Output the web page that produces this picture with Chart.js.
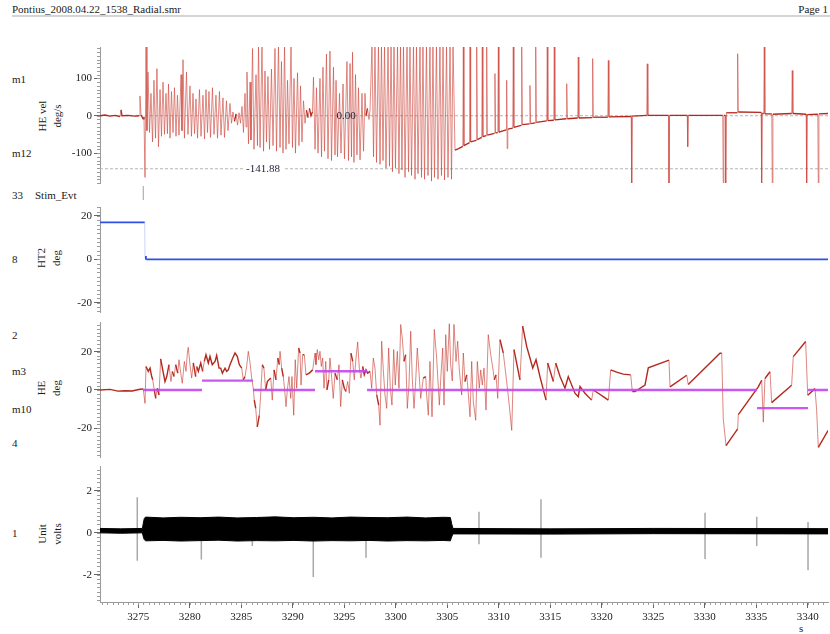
<!DOCTYPE html>
<html>
<head>
<meta charset="utf-8">
<title>Pontius_2008.04.22_1538_Radial.smr</title>
<script src="https://cdn.jsdelivr.net/npm/chart.js"></script>
<style>
  body { margin: 0; width: 830px; height: 634px; background: #fff; position: relative; overflow: hidden;
         font-family: "Liberation Serif", Tinos, "Times New Roman", Times, "Liberation Sans", sans-serif; color: #1a1a1a; }
  canvas.panel { position: absolute; left: 0; }
  .lbl { position: absolute; font-size: 11px; line-height: 12px; white-space: nowrap; }
  .rot { position: absolute; font-size: 11px; line-height: 15px; text-align: center; white-space: nowrap;
         transform: translate(-50%, -50%) rotate(-90deg); }
  .rule { position: absolute; left: 12px; top: 15px; width: 818px; height: 2px; background: #d4d4d4; }
</style>
</head>
<body>
<div class="lbl" style="left:12px;top:3px">Pontius_2008.04.22_1538_Radial.smr</div>
<div class="lbl" style="right:2px;top:3px">Page 1</div>
<div class="rule"></div>

<div class="lbl" style="left:12px;top:73px">m1</div>
<div class="lbl" style="left:12px;top:147px">m12</div>
<div class="rot" style="left:50px;top:116px">HE vel<br>deg/s</div>

<div class="lbl" style="left:12px;top:189px">33</div>
<div class="lbl" style="left:35px;top:189px">Stim_Evt</div>

<div class="lbl" style="left:12px;top:253px">8</div>
<div class="rot" style="left:49px;top:258px">HT2<br>deg</div>

<div class="lbl" style="left:12px;top:329px">2</div>
<div class="lbl" style="left:12px;top:365px">m3</div>
<div class="lbl" style="left:12px;top:403px">m10</div>
<div class="lbl" style="left:12px;top:437px">4</div>
<div class="rot" style="left:49px;top:388px">HE<br>deg</div>

<div class="lbl" style="left:12px;top:527px">1</div>
<div class="rot" style="left:50px;top:534px">Unit<br>volts</div>
<div class="lbl" style="left:799px;top:622px">s</div>

<canvas class="panel" id="cVel"  width="830" height="156" style="top:37px;width:830px;height:156px"></canvas>
<canvas class="panel" id="cStim" width="830" height="16"  style="top:185px;width:830px;height:16px"></canvas>
<canvas class="panel" id="cHt2"  width="830" height="125" style="top:197px;width:830px;height:125px"></canvas>
<canvas class="panel" id="cHe"   width="830" height="155" style="top:312px;width:830px;height:155px"></canvas>
<canvas class="panel" id="cUnit" width="830" height="178" style="top:456px;width:830px;height:178px"></canvas>

<script>
// ---------- recorded channels (time in s) ----------

// HE vel, deg/s : [time, value]
const heVel = [
  [3271.28,0],[3271.77,2],[3272.25,-1],[3272.74,1],[3273.22,-2],[3273.32,16],[3273.42,0],[3274.00,1],
  [3274.68,-1],[3275.07,0],[3275.16,53],[3275.26,2],[3275.46,-8],[3275.55,-3],[3275.65,-165],[3275.75,190],
  [3275.84,-40],[3275.94,117],[3276.09,-45],[3276.23,60],[3276.38,-70],[3276.52,95],[3276.67,-60],[3276.81,126],
  [3276.96,-83],[3277.11,70],[3277.25,-55],[3277.40,90],[3277.54,-50],[3277.69,60],[3277.83,-48],[3277.93,85],
  [3278.08,-60],[3278.22,65],[3278.37,-45],[3278.51,75],[3278.66,-55],[3278.80,55],[3278.95,-52],[3279.15,110],
  [3279.24,-40],[3279.34,150],[3279.48,-60],[3279.68,117],[3279.82,-50],[3280.02,80],[3280.16,-55],[3280.31,60],
  [3280.46,-48],[3280.60,45],[3280.75,-60],[3280.94,70],[3281.09,-55],[3281.28,55],[3281.43,-62],[3281.57,70],
  [3281.72,-45],[3281.86,65],[3282.01,-58],[3282.20,75],[3282.35,-50],[3282.54,55],[3282.69,-60],[3282.88,65],
  [3283.03,-52],[3283.22,48],[3283.37,-58],[3283.56,40],[3283.71,-40],[3283.90,33],[3284.05,-20],[3284.19,10],
  [3284.34,-15],[3284.49,5],[3284.63,-25],[3284.78,8],[3284.92,-20],[3285.07,25],[3285.21,-45],[3285.36,60],
  [3285.46,-30],[3285.55,117],[3285.70,-75],[3285.85,90],[3285.94,-65],[3286.09,180],[3286.23,-90],[3286.43,110],
  [3286.57,-80],[3286.67,190],[3286.82,-85],[3287.01,190],[3287.16,-95],[3287.30,120],[3287.45,-70],[3287.59,105],
  [3287.74,-90],[3287.93,125],[3288.08,-80],[3288.27,180],[3288.42,-95],[3288.61,190],[3288.76,-85],[3288.90,145],
  [3289.05,-100],[3289.20,190],[3289.34,-90],[3289.49,95],[3289.63,-75],[3289.83,190],[3289.97,-85],[3290.12,100],
  [3290.26,-100],[3290.46,115],[3290.60,-80],[3290.75,80],[3290.89,-70],[3291.04,40],[3291.19,-20],[3291.33,15],
  [3291.48,-5],[3291.62,20],[3291.77,0],[3291.91,10],[3292.01,103],[3292.16,-90],[3292.30,75],[3292.45,-100],
  [3292.64,100],[3292.79,-110],[3292.93,130],[3293.08,-95],[3293.27,165],[3293.42,-115],[3293.61,173],[3293.76,-120],
  [3293.95,130],[3294.10,-105],[3294.20,95],[3294.34,-110],[3294.54,60],[3294.68,-100],[3294.88,85],[3295.02,-115],
  [3295.26,145],[3295.41,-120],[3295.56,140],[3295.70,-110],[3295.80,170],[3295.94,-125],[3296.09,110],[3296.23,-105],
  [3296.38,75],[3296.53,-118],[3296.72,60],[3296.87,-95],[3297.01,60],[3297.11,0],[3297.25,20],[3297.40,-10],
  [3297.50,15],[3297.69,190],[3297.84,-110],[3297.98,190],[3298.13,-125],[3298.32,190],[3298.47,-130],[3298.61,190],
  [3298.76,-120],[3298.91,190],[3299.05,-140],[3299.25,190],[3299.39,-135],[3299.54,190],[3299.68,-150],[3299.83,190],
  [3299.97,-140],[3300.17,190],[3300.31,-155],[3300.46,190],[3300.60,-145],[3300.75,190],[3300.90,-165],[3301.09,190],
  [3301.24,-150],[3301.38,190],[3301.53,-160],[3301.72,190],[3301.87,-170],[3302.01,190],[3302.16,-155],[3302.35,190],
  [3302.50,-165],[3302.64,190],[3302.79,-170],[3302.98,190],[3303.13,-160],[3303.32,190],[3303.47,-175],[3303.61,190],
  [3303.76,-165],[3303.95,190],[3304.10,-170],[3304.29,190],[3304.44,-160],[3304.59,190],[3304.73,-172],[3304.93,190],
  [3305.07,-165],[3305.27,190],[3305.41,-170],[3305.56,190],[3305.75,-92],[3306.10,-88],[3306.51,-82],[3306.56,190],
  [3306.62,-80],[3307.16,-72],[3307.21,190],[3307.27,-70],[3307.81,-66],[3307.86,190],[3307.92,-64],[3308.35,-58],
  [3308.40,190],[3308.46,-56],[3308.78,-53],[3308.83,190],[3308.89,-52],[3309.58,-47],[3309.63,113],[3309.69,-46],
  [3309.91,-45],[3309.96,190],[3310.02,-44],[3310.72,-38],[3310.77,95],[3310.82,-88],[3310.88,-36],[3311.36,-33],
  [3311.41,190],[3311.47,-31],[3312.18,-26],[3312.23,190],[3312.29,-24],[3312.98,-22],[3313.03,81],[3313.09,-21],
  [3313.54,-19],[3313.59,190],[3313.65,-18],[3314.66,-14],[3314.71,190],[3314.77,-13],[3315.34,-12],[3315.39,190],
  [3315.45,-11],[3316.55,-8],[3316.60,86],[3316.66,-8],[3317.67,-6],[3317.72,157],[3317.78,-6],[3319.07,-5],
  [3319.12,153],[3319.18,-4],[3320.59,-4],[3320.64,148],[3320.70,-3],[3322.86,-2],[3322.91,-190],[3322.97,-1],
  [3324.37,1],[3324.42,139],[3324.48,1],[3326.48,1],[3326.53,-190],[3326.59,1],[3328.30,1],[3328.35,-83],
  [3328.41,1],[3331.75,1],[3331.80,-190],[3331.86,0],[3331.99,2],[3332.04,-190],[3332.10,8],[3333.15,8],
  [3333.20,166],[3333.26,10],[3335.48,9],[3335.53,-190],[3335.59,6],[3335.73,6],[3335.78,190],[3335.84,5],
  [3336.51,5],[3336.56,-190],[3336.62,4],[3338.45,6],[3338.50,121],[3338.56,6],[3339.85,4],[3339.90,-190],
  [3339.96,3],[3340.98,4],[3341.03,-190],[3341.09,5],[3341.97,6]
];

// horizontal cursors on HE vel (deg/s)
const velCursors = [0, -141.88];

// Stim_Evt event times
const stimEvents = [3275.48];

// HT2, deg : [time, value]
const ht2Deg = [[3271.28,17],[3275.62,17],[3275.65,0.2],[3275.74,1.5],[3275.78,0],[3341.97,0]];

// HE position, deg : [time, value]
const heDeg = [
  [3271.28,0],[3272.25,0.3],[3273.03,-0.6],[3273.71,-0.4],[3274.39,-0.5],[3275.16,0.4],[3275.48,0.5],[3275.65,-7.0],
  [3275.75,12.3],[3275.97,9.7],[3276.14,11.4],[3276.30,7.0],[3276.40,5.3],[3276.55,0],[3276.69,-4.4],[3276.84,0.9],
  [3277.01,-2.6],[3277.17,16.3],[3277.43,8.8],[3277.59,4.4],[3277.76,7.0],[3277.98,13.2],[3278.17,4.4],[3278.30,9.7],
  [3278.47,7.0],[3278.63,13.2],[3278.83,8.8],[3278.95,15.8],[3279.12,8.8],[3279.27,3.5],[3279.47,14.9],[3279.63,9.7],
  [3279.76,19.3],[3279.85,22.3],[3280.02,13.2],[3280.18,6.2],[3280.34,14.1],[3280.57,7.0],[3280.67,12.3],[3280.83,9.7],
  [3281.06,14.1],[3281.25,9.7],[3281.41,14.9],[3281.57,18.4],[3281.80,14.1],[3281.96,17.6],[3282.18,13.2],[3282.45,14.9],
  [3282.61,18.1],[3282.84,11.4],[3283.00,11.4],[3283.16,8.8],[3283.42,11.4],[3283.58,9.7],[3283.74,10.5],[3283.90,13.2],
  [3284.17,16.7],[3284.39,19.3],[3284.61,17.6],[3284.81,13.2],[3285.04,11.4],[3285.19,5.3],[3285.36,7.0],[3285.52,12.3],
  [3285.68,20.2],[3285.85,14.1],[3286.01,6.2],[3286.17,0.5],[3286.26,-5.3],[3286.40,-9.6],[3286.55,-19.3],[3286.75,-13.2],
  [3286.88,-2.6],[3287.04,13.2],[3287.20,11.4],[3287.37,0],[3287.53,4.4],[3287.69,5.3],[3287.86,6.2],[3288.01,-5.3],
  [3288.18,10.5],[3288.37,5.3],[3288.54,16.7],[3288.69,13.2],[3288.76,20.2],[3288.92,11.4],[3289.08,7.0],[3289.24,-1.7],
  [3289.34,-8.7],[3289.47,0],[3289.63,7.0],[3289.80,-4.4],[3289.92,7.0],[3290.09,-13.2],[3290.24,15.8],[3290.38,0.9],
  [3290.57,21.9],[3290.70,19.3],[3290.80,2.6],[3290.96,18.4],[3291.12,18.4],[3291.28,7.9],[3291.60,8.8],[3291.93,10.5],
  [3292.16,19.3],[3292.25,13.2],[3292.38,21.1],[3292.52,15.8],[3292.64,20.2],[3292.77,12.3],[3292.90,16.7],[3293.03,0.9],
  [3293.20,14.9],[3293.32,0],[3293.49,5.3],[3293.61,16.7],[3293.78,6.2],[3293.93,-4.4],[3294.10,8.8],[3294.32,5.3],
  [3294.49,13.2],[3294.65,-8.7],[3294.81,5.3],[3295.00,0.9],[3295.17,-0.8],[3295.33,4.4],[3295.49,-1.7],[3295.65,19.3],
  [3295.82,14.9],[3295.97,5.3],[3296.14,16.7],[3296.30,25.1],[3296.46,11.4],[3296.62,6.2],[3296.79,12.3],[3296.94,7.9],
  [3297.11,10.5],[3297.27,8.8],[3297.50,9.7],[3297.66,0.9],[3297.82,16.7],[3297.98,11.4],[3298.15,-2.6],[3298.34,-7.9],
  [3298.47,-18.4],[3298.63,25.5],[3298.79,10.5],[3298.95,-2.6],[3299.12,-9.6],[3299.31,21.9],[3299.47,0.9],[3299.63,-7.9],
  [3299.80,21.1],[3299.95,2.6],[3300.15,20.2],[3300.31,0.9],[3300.48,34.2],[3300.63,27.2],[3300.80,14.9],[3300.96,18.4],
  [3301.12,-9.6],[3301.28,2.6],[3301.45,30.7],[3301.60,6.2],[3301.77,-9.6],[3301.93,4.4],[3302.09,21.9],[3302.25,9.7],
  [3302.42,-4.4],[3302.67,6.2],[3302.91,7.0],[3303.00,-2.6],[3303.16,-13.2],[3303.32,14.9],[3303.52,-14.0],[3303.74,31.6],
  [3303.97,16.7],[3304.23,-7.9],[3304.39,7.9],[3304.56,21.9],[3304.68,-7.9],[3304.85,28.9],[3305.00,9.7],[3305.20,34.6],
  [3305.33,13.2],[3305.49,4.7],[3305.65,34.2],[3305.85,14.9],[3306.01,25.5],[3306.17,10.5],[3306.40,-2.6],[3306.56,19.3],
  [3306.72,4.4],[3306.89,7.9],[3307.04,-1.7],[3307.21,-14.0],[3307.37,14.9],[3307.53,-6.1],[3307.76,-15.8],[3307.92,14.9],
  [3308.11,0.9],[3308.25,10.5],[3308.40,2.6],[3308.57,11.4],[3308.76,-10.5],[3308.98,28.9],[3309.22,18.4],[3309.47,9.7],
  [3309.57,5.3],[3309.73,7.9],[3309.90,-4.4],[3310.12,26.3],[3310.44,19.3],[3310.77,4.4],[3311.02,-7.9],[3311.26,-21.1],
  [3311.48,21.1],[3311.80,12.3],[3312.06,5.3],[3312.32,33.4],[3312.71,22.8],[3313.03,16.7],[3313.30,11.4],[3313.62,15.8],
  [3314.00,7.0],[3314.59,-5.3],[3314.75,14.1],[3315.30,4.4],[3315.53,14.1],[3315.95,7.0],[3316.43,0.9],[3316.75,7.0],
  [3317.40,-1.7],[3317.72,-3.5],[3317.89,1.8],[3318.37,-1.7],[3319.02,-5.3],[3319.18,0],[3319.66,-1.7],[3320.15,-3.5],
  [3320.64,-5.3],[3320.87,10.5],[3321.45,9.3],[3322.09,8.3],[3322.81,7.9],[3322.97,-0.8],[3323.23,-0.8],[3324.20,2.5],
  [3324.52,11.6],[3326.53,15.6],[3326.63,1.6],[3328.25,7.7],[3328.40,2.8],[3331.48,19.2],[3331.65,19.2],[3331.80,-15.0],
  [3332.07,-29.1],[3333.20,-20.3],[3333.26,-12.9],[3335.20,1.6],[3335.53,5.1],[3335.69,-16.8],[3335.85,6.0],[3336.34,9.5],
  [3336.50,-6.6],[3338.44,2.5],[3338.60,17.4],[3339.80,25.3],[3340.00,-2.8],[3340.71,0.7],[3340.87,-10.7],[3341.03,-30.0],
  [3341.97,-21.2]
];

// target steps on the HE channel : [start, end, level deg]
const targetSteps = [
  [3275.46,3281.18,0],[3281.18,3286.14,4.9],[3286.14,3292.16,0],[3292.16,3297.21,9.8],
  [3297.21,3335.08,0],[3335.08,3340.03,-9.5],[3340.03,3341.97,0]
];

// Unit, volts : envelope of the raw trace
const unitTime  = [3271.28,3273.30,3275.40,3275.48,3275.58,3275.70,3277.4,3279.1,3281.0,3282.8,3284.6,3286.5,3288.3,
                   3290.1,3292.0,3293.8,3295.6,3297.4,3299.2,3301.1,3302.9,3304.6,3305.30,3305.42,3305.55,3315.0,3325.0,3341.97];
const unitUpper = [0.21,0.19,0.21,0.45,0.68,0.75,0.71,0.74,0.72,0.75,0.71,0.73,0.76,
                   0.72,0.74,0.71,0.75,0.73,0.72,0.75,0.71,0.74,0.73,0.45,0.21,0.19,0.21,0.20];
const unitLower = [0.00,-0.02,0.00,-0.18,-0.32,-0.38,-0.36,-0.39,-0.37,-0.35,-0.39,-0.37,-0.38,
                   -0.36,-0.39,-0.37,-0.38,-0.36,-0.39,-0.37,-0.38,-0.36,-0.38,-0.20,-0.05,-0.06,-0.04,-0.05];
// isolated large deflections : [time, top, bottom]
const unitSpikes = [
  [3274.90,1.69,-1.33],[3281.12,0.70,-1.27],[3286.07,0.70,-0.63],[3291.99,0.70,-2.10],[3297.11,0.70,-1.19],
  [3308.08,1.00,-0.54],[3314.10,1.60,-1.19],[3330.03,0.95,-1.24],[3335.05,0.76,-0.63],[3340.03,0.52,-1.78]
];

// ---------- shared axis settings ----------
const T_MIN = 3271.28, T_MAX = 3341.97;
const FAMILY = '"Liberation Serif", Tinos, "Times New Roman", Times, "Liberation Sans", sans-serif';
const FONT = { family: FAMILY, size: 11 };
const TEXT = '#1a1a1a';

const toXY = pairs => pairs.map(([x, y]) => ({ x, y }));

// lighter stroke for fast (steep) pieces of a trace, darker for slow drift
function phaseStyle(dark, light, darkW, lightW) {
  const steep = c => Math.abs(c.p1.y - c.p0.y) > 6 * Math.max(Math.abs(c.p1.x - c.p0.x), 0.5);
  return {
    borderColor: c => steep(c) ? light : dark,
    borderWidth: c => steep(c) ? lightW : darkW
  };
}

// short minor tick marks between the labelled ones
const minorTicks = {
  id: 'minorTicks',
  afterDraw(chart, args, opts) {
    const ctx = chart.ctx;
    ctx.save();
    ctx.strokeStyle = '#9c9c9c';
    ctx.lineWidth = 1;
    ctx.beginPath();
    for (const [id, step] of Object.entries(opts.steps || {})) {
      const s = chart.scales[id];
      if (!s) continue;
      const first = Math.ceil(s.min / step - 1e-9), last = Math.floor(s.max / step + 1e-9);
      for (let k = first; k <= last; k++) {
        const p = Math.round(s.getPixelForValue(k * step)) + 0.5;
        if (s.isHorizontal()) { ctx.moveTo(p, s.top); ctx.lineTo(p, s.top + 3); }
        else { ctx.moveTo(s.right - 3, p); ctx.lineTo(s.right, p); }
      }
    }
    ctx.stroke();
    ctx.restore();
  }
};

// value read-outs on the cursor lines
const cursorLabels = {
  id: 'cursorLabels',
  afterDatasetsDraw(chart, args, opts) {
    const { ctx, scales: { x, y } } = chart;
    ctx.save();
    ctx.font = '11px ' + FAMILY;
    ctx.textAlign = 'center';
    ctx.textBaseline = 'middle';
    for (const it of opts.items || []) {
      const px = x.getPixelForValue(it.at), py = y.getPixelForValue(it.value);
      const text = it.value.toFixed(2);
      if (it.clear) {
        const w = ctx.measureText(text).width + 6;
        ctx.fillStyle = '#fff';
        ctx.fillRect(px - w / 2, py - 7, w, 14);
      }
      ctx.fillStyle = '#1c2036';
      ctx.fillText(text, px, py);
    }
    ctx.restore();
  }
};

function valueAxis(min, max, step) {
  return {
    position: 'left', min, max,
    afterFit: s => { s.width = 100; },
    border: { display: true, color: '#9a9a9a' },
    grid: { drawOnChartArea: false, tickLength: 6, tickColor: '#666' },
    ticks: { stepSize: step, includeBounds: false, autoSkip: false, padding: 2, color: TEXT, font: FONT,
             callback: v => String(Math.round(v * 100) / 100) }
  };
}
const hiddenTime = { type: 'linear', min: T_MIN, max: T_MAX, display: false };

function options(scales, padding, plugins) {
  return {
    responsive: false, animation: false, devicePixelRatio: 1,
    layout: { padding },
    elements: { point: { radius: 0 }, line: { tension: 0 } },
    plugins: Object.assign({ legend: { display: false }, tooltip: { enabled: false } }, plugins || {}),
    scales
  };
}

// ---------- HE vel ----------
new Chart(document.getElementById('cVel'), {
  type: 'line',
  data: { datasets: [
    { data: toXY(heVel), segment: phaseStyle('#b3291d', 'rgba(205,70,60,0.62)', 1.3, 1) },
    { data: velCursors.flatMap(v => [{ x: T_MIN, y: v }, { x: T_MAX, y: v }, { x: T_MAX, y: null }]),
      borderColor: '#b4b4b4', borderWidth: 1, borderDash: [3, 2], spanGaps: false }
  ] },
  options: options(
    { x: hiddenTime, y: valueAxis(-180, 184, 100) },
    { left: 0, right: 2, top: 10, bottom: 10 },
    { minorTicks: { steps: { y: 10 } },
      cursorLabels: { items: [ { value: velCursors[0], at: 3295.17, clear: false },
                               { value: velCursors[1], at: 3287.11, clear: true } ] } }
  ),
  plugins: [minorTicks, cursorLabels]
});

// ---------- Stim_Evt ----------
new Chart(document.getElementById('cStim'), {
  type: 'line',
  data: { datasets: [
    { data: stimEvents.flatMap(t => [{ x: t, y: 0 }, { x: t, y: 1 }, { x: t, y: null }]),
      borderColor: '#a0a0a0', borderWidth: 1, spanGaps: false }
  ] },
  options: options(
    { x: hiddenTime, y: { min: 0, max: 1, display: false } },
    { left: 100, right: 2, top: 1, bottom: 1 }
  )
});

// ---------- HT2 ----------
new Chart(document.getElementById('cHt2'), {
  type: 'line',
  data: { datasets: [
    { data: toXY(ht2Deg), segment: phaseStyle('#2f4fe6', 'rgba(90,110,240,0.3)', 1.8, 1) }
  ] },
  options: options(
    { x: hiddenTime, y: valueAxis(-24.3, 24.1, 20) },
    { left: 0, right: 2, top: 10, bottom: 10 },
    { minorTicks: { steps: { y: 2 } } }
  ),
  plugins: [minorTicks]
});

// ---------- HE ----------
new Chart(document.getElementById('cHe'), {
  type: 'line',
  data: { datasets: [
    { data: targetSteps.flatMap(([a, b, v]) => [{ x: a, y: v }, { x: b, y: v }, { x: b, y: null }]),
      borderColor: 'rgba(196,70,238,0.9)', borderWidth: 2.4, spanGaps: false },
    { data: toXY(heDeg), segment: phaseStyle('#b3291d', 'rgba(200,60,50,0.62)', 1.4, 1) }
  ] },
  options: options(
    { x: hiddenTime, y: valueAxis(-35, 35.5, 20) },
    { left: 0, right: 2, top: 10, bottom: 10 },
    { minorTicks: { steps: { y: 2 } } }
  ),
  plugins: [minorTicks]
});

// ---------- Unit ----------
new Chart(document.getElementById('cUnit'), {
  type: 'line',
  data: { datasets: [
    { data: unitTime.map((t, i) => ({ x: t, y: unitUpper[i] })), borderColor: '#000', borderWidth: 1,
      backgroundColor: '#000', fill: '+1' },
    { data: unitTime.map((t, i) => ({ x: t, y: unitLower[i] })), borderColor: '#000', borderWidth: 1 },
    { data: unitSpikes.flatMap(([t, hi, lo]) => [{ x: t, y: hi }, { x: t, y: lo }, { x: t, y: null }]),
      borderColor: '#a8a8a8', borderWidth: 1.5, spanGaps: false }
  ] },
  options: options(
    {
      x: {
        type: 'linear', position: 'bottom', min: T_MIN, max: T_MAX,
        afterFit: s => { s.height = 32; },
        border: { display: true, color: '#9a9a9a' },
        grid: { drawOnChartArea: false, tickLength: 6, tickColor: '#666' },
        ticks: { stepSize: 5, includeBounds: false, autoSkip: false, maxRotation: 0, padding: 3,
                 color: TEXT, font: FONT, callback: v => String(Math.round(v)) }
      },
      y: valueAxis(-3.29, 3.18, 2)
    },
    { left: 0, right: 2, top: 10, bottom: 0 },
    { minorTicks: { steps: { x: 0.5, y: 0.2 } } }
  ),
  plugins: [minorTicks]
});
</script>
</body>
</html>
